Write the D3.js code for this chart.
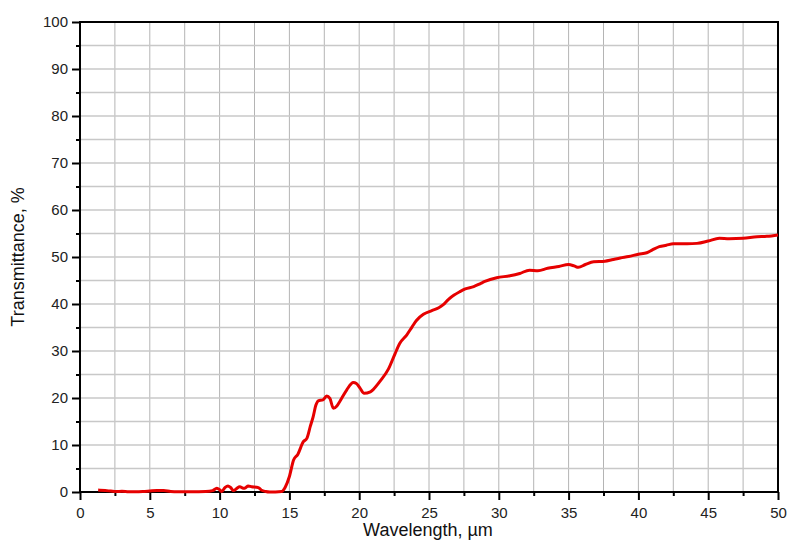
<!DOCTYPE html>
<html><head><meta charset="utf-8">
<script src="https://cdn.jsdelivr.net/npm/d3@7"></script>
<style>html,body{margin:0;padding:0;background:#fff;}svg{display:block;}</style>
</head><body>
<script>
const wavelength = [1.3,1.8,2.2,2.6,3.0,3.5,4.0,4.5,5.0,5.5,6.0,6.5,7.0,8.0,9.0,9.5,9.8,10.0,10.15,10.4,10.6,10.8,11.0,11.2,11.45,11.7,11.85,12.05,12.3,12.65,12.85,13.0,13.3,13.6,14.0,14.45,14.7,15.0,15.3,15.6,16.0,16.25,16.5,16.7,16.9,17.07,17.4,17.67,17.9,18.15,18.4,18.6,19.1,19.58,19.8,20.06,20.35,20.8,21.0,21.5,22.1,22.55,22.9,23.4,23.8,24.1,24.6,25.2,25.7,26.0,26.4,26.8,27.2,27.6,28.2,28.65,29.0,29.85,30.8,31.5,32.2,32.8,33.5,34.3,35.0,35.4,35.7,36.2,36.8,37.6,38.1,38.7,39.3,40.0,40.6,41.0,41.5,42.0,42.5,43.5,44.2,45.0,45.8,46.5,47.5,48.5,49.2,50.0];
const transmittance = [0.4,0.3,0.2,0.1,0.15,0.05,0.05,0.1,0.2,0.3,0.3,0.1,0.05,0.05,0.1,0.3,0.8,0.5,0.1,1.0,1.3,0.9,0.3,0.7,1.1,0.8,0.9,1.3,1.1,1.0,0.8,0.4,0.1,0.0,0.0,0.1,1.0,3.3,6.8,8.0,10.7,11.4,14.0,16.0,18.5,19.4,19.6,20.4,19.9,17.8,18.3,19.2,21.7,23.3,23.1,22.1,21.0,21.3,21.8,23.6,26.2,29.3,31.6,33.4,35.2,36.5,37.8,38.6,39.2,39.8,41.0,41.9,42.6,43.2,43.7,44.3,44.8,45.6,46.0,46.5,47.2,47.1,47.6,48.0,48.4,48.1,47.8,48.4,49.0,49.1,49.4,49.8,50.1,50.6,50.9,51.5,52.2,52.5,52.8,52.8,52.9,53.4,54.0,53.9,54.0,54.3,54.4,54.7];
const xMajorTicks = [0,5,10,15,20,25,30,35,40,45,50];
const yMajorTicks = [0,10,20,30,40,50,60,70,80,90,100];
const xLabel = "Wavelength, \u00b5m";
const yLabel = "Transmittance, %";

const W = 810, H = 544;
const m = {left:80, right:32, top:22, bottom:52};
const svg = d3.select("body").append("svg").attr("width", W).attr("height", H);
const x = d3.scaleLinear().domain([0,50]).range([m.left, W - m.right]);
const y = d3.scaleLinear().domain([0,100]).range([H - m.bottom, m.top]);
const font = "'Liberation Sans', Arial, sans-serif";

// grid
const xGrid = d3.range(0, 50.01, 2.5), yGrid = d3.range(0, 100.01, 5);
svg.append("g").selectAll("line").data(xGrid).join("line")
  .attr("x1", d => x(d)).attr("x2", d => x(d)).attr("y1", y(0)).attr("y2", y(100))
  .attr("stroke", "#b4b4b4").attr("stroke-width", 1);
svg.append("g").selectAll("line").data(yGrid).join("line")
  .attr("x1", x(0)).attr("x2", x(50)).attr("y1", d => y(d)).attr("y2", d => y(d))
  .attr("stroke", "#c8c8c8").attr("stroke-width", 1.5);

// axes
const xAxis = d3.axisBottom(x).tickValues(xMajorTicks).tickSize(8).tickPadding(7).tickFormat(d3.format("d"));
const xMinor = d3.axisBottom(x).tickValues(d3.range(2.5, 50, 5)).tickSize(4).tickFormat("");
const yAxis = d3.axisLeft(y).tickValues(yMajorTicks).tickSize(8).tickPadding(4).tickFormat(d3.format("d"));
const yMinor = d3.axisLeft(y).tickValues(d3.range(5, 100, 10)).tickSize(4).tickFormat("");

function styleAxis(g){
  g.select(".domain").remove();
  g.selectAll("line").attr("stroke", "#000").attr("stroke-width", 2);
  g.selectAll("text").attr("font-family", font).attr("font-size", 15).attr("fill", "#222");
}
svg.append("g").attr("transform", `translate(0,${y(0)})`).call(xAxis).call(styleAxis);
svg.append("g").attr("transform", `translate(0,${y(0)})`).call(xMinor).call(styleAxis);
svg.append("g").attr("transform", `translate(${x(0)},0)`).call(yAxis).call(styleAxis);
svg.append("g").attr("transform", `translate(${x(0)},0)`).call(yMinor).call(styleAxis);

// frame
svg.append("rect").attr("x", x(0)).attr("y", y(100)).attr("width", x(50)-x(0)).attr("height", y(0)-y(100))
  .attr("fill", "none").attr("stroke", "#000").attr("stroke-width", 2);

// curve
const pts = wavelength.map((w,i) => [w, transmittance[i]]);
svg.append("path").datum(pts)
  .attr("d", d3.line().x(d => x(d[0])).y(d => y(d[1])).curve(d3.curveMonotoneX))
  .attr("fill", "none").attr("stroke", "#e60000").attr("stroke-width", 3).attr("stroke-linejoin", "round");

// labels
svg.append("text").attr("x", 428).attr("y", 536).attr("text-anchor", "middle")
  .attr("font-family", font).attr("font-size", 18).attr("fill", "#111").text(xLabel);
svg.append("text").attr("transform", `translate(24,${(y(0)+y(100))/2}) rotate(-90)`).attr("text-anchor", "middle")
  .attr("font-family", font).attr("font-size", 18).attr("fill", "#111").text(yLabel);
</script>
</body></html>
